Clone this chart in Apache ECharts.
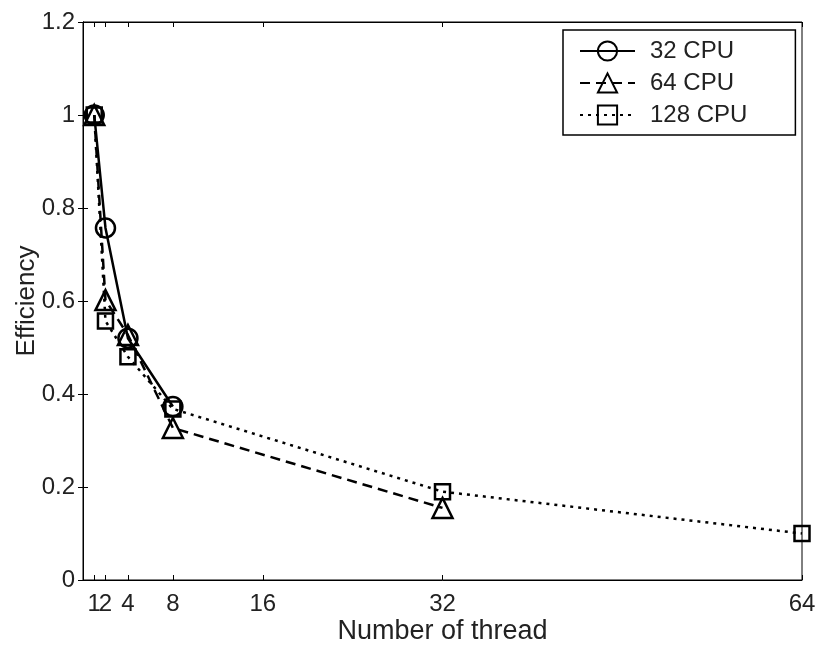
<!DOCTYPE html>
<html>
<head>
<meta charset="utf-8">
<script src="https://cdn.jsdelivr.net/npm/echarts@6/dist/echarts.min.js"></script>
<style>html,body{margin:0;padding:0;background:#fff;}#c{width:816px;height:651px;}</style>
</head>
<body>
<div id="c"></div>
<script>
const xTicks = [1, 2, 4, 8, 16, 32, 64];
const yTicks = [0, 0.2, 0.4, 0.6, 0.8, 1, 1.2];
const seriesNames = ['32 CPU', '64 CPU', '128 CPU'];
const x32 = [1, 2, 4, 8];
const y32 = [1.0, 0.757, 0.52, 0.373];
const x64 = [1, 2, 4, 8, 32];
const y64 = [1.0, 0.602, 0.527, 0.327, 0.155];
const x128 = [1, 2, 4, 8, 32, 64];
const y128 = [1.0, 0.557, 0.48, 0.368, 0.19, 0.10];

const FONT = 'Liberation Sans, Arial, Helvetica, sans-serif';
const pairs = (xs, ys) => xs.map((x, i) => [x, ys[i]]);
// labels split into two interleaved sets so the tightly packed "1" and "2" both show
const xLabelsA = xTicks.filter((v, i) => i % 2 === 0 || v > 2);
const xLabelsB = xTicks.filter(v => xLabelsA.indexOf(v) < 0);

const chart = echarts.init(document.getElementById('c'), null, {renderer: 'canvas'});
const mk = (name, xs, ys, symbol, size, dash) => ({
  name: name, type: 'line', data: pairs(xs, ys),
  symbol: symbol, symbolSize: size, showAllSymbol: true,
  lineStyle: {color: '#000', width: 2.5, type: dash},
  itemStyle: {color: 'rgba(255,255,255,0)', borderColor: '#000', borderWidth: 2.5},
  emphasis: {disabled: true}, animation: false, z: 3, clip: false
});

const axisLine = {show: true, lineStyle: {color: '#000', width: 1}};
const tick = extra => Object.assign({show: true, inside: true, length: 5, lineStyle: {color: '#000', width: 1}}, extra || {});
const labelStyle = {fontFamily: FONT, fontSize: 24, color: '#222', hideOverlap: false};

chart.setOption({
  animation: false,
  backgroundColor: '#fff',
  grid: {left: 83, right: 14, top: 22, bottom: 71, containLabel: false, outerBoundsMode: 'none',
         show: true, borderColor: '#000', borderWidth: 1, backgroundColor: 'transparent'},
  legend: {
    left: 563, top: 30, orient: 'vertical',
    backgroundColor: '#fff', borderColor: '#000', borderWidth: 1.5,
    padding: [9, 48, 8, 16],
    itemWidth: 55, itemHeight: 24, itemGap: 8,
    textStyle: {fontFamily: FONT, fontSize: 24, color: '#222', padding: [0, 0, 0, 10]},
    data: seriesNames
  },
  xAxis: [
    {
      type: 'value', min: 0, max: 64, position: 'bottom',
      name: 'Number of thread', nameLocation: 'middle', nameGap: 38, nameMoveOverlap: false,
      nameTextStyle: {fontFamily: FONT, fontSize: 27, color: '#222'},
      axisLine: axisLine, splitLine: {show: false},
      axisTick: tick({customValues: xTicks}),
      axisLabel: Object.assign({customValues: xLabelsA, margin: 12}, labelStyle)
    },
    {
      type: 'value', min: 0, max: 64, position: 'bottom',
      axisLine: {show: false}, axisTick: {show: false}, splitLine: {show: false},
      axisLabel: Object.assign({customValues: xLabelsB, margin: 12}, labelStyle)
    },
    {
      type: 'value', min: 0, max: 64, position: 'top',
      axisLine: axisLine, splitLine: {show: false},
      axisTick: tick({customValues: xTicks}), axisLabel: {show: false}
    }
  ],
  yAxis: [
    {
      type: 'value', min: 0, max: 1.2, interval: 0.2, position: 'left',
      name: 'Efficiency', nameLocation: 'middle', nameGap: 43, nameMoveOverlap: false,
      nameTextStyle: {fontFamily: FONT, fontSize: 26, color: '#222'},
      axisLine: axisLine, splitLine: {show: false}, axisTick: tick(),
      axisLabel: Object.assign({customValues: yTicks, margin: 8}, labelStyle)
    },
    {
      type: 'value', min: 0, max: 1.2, interval: 0.2, position: 'right',
      axisLine: axisLine, splitLine: {show: false}, axisTick: tick(), axisLabel: {show: false}
    }
  ],
  series: [
    mk(seriesNames[0], x32, y32, 'circle', 19, 'solid'),
    mk(seriesNames[1], x64, y64, 'triangle', 20, [10, 6]),
    mk(seriesNames[2], x128, y128, 'rect', 15, [3, 5])
  ]
});
</script>
</body>
</html>
